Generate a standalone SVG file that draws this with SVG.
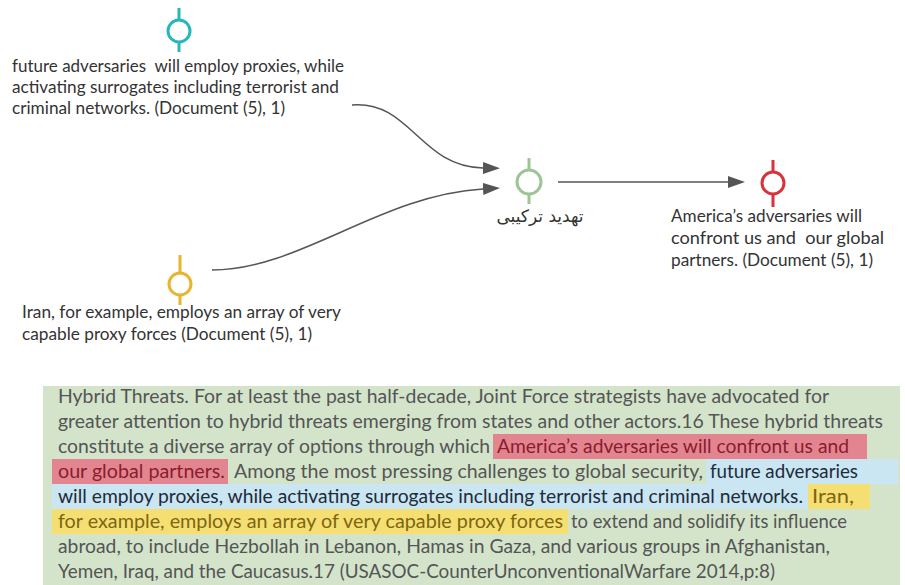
<svg xmlns="http://www.w3.org/2000/svg" width="905" height="585" viewBox="0 0 905 585">
<style>
.lbl{font-family:Lato,"Open Sans","Liberation Sans",sans-serif;font-size:17px;fill:#333}
.fa{font-family:"DejaVu Sans","Noto Sans",sans-serif;font-size:17px;fill:#333}
.body{font-family:Lato,"Open Sans","Liberation Sans",sans-serif;font-size:18.5px;fill:#555}
.rt{fill:#8b1c2c}.bt{fill:#1e2b3a}.yt{fill:#7d6612}
.stem{fill:none;stroke-width:3}
.conn{fill:none;stroke:#555;stroke-width:1.5}
</style>
<defs>
<marker id="ah" markerUnits="userSpaceOnUse" markerWidth="18" markerHeight="13" refX="0" refY="6" orient="auto">
<path d="M0,0 L17,6 L0,12 z" fill="#555"/>
</marker>
</defs>
<rect width="905" height="585" fill="#fff"/>

<g id="connectors">
<path class="conn" d="M352,105 C410,100 420,167 483,168" marker-end="url(#ah)"/>
<path class="conn" d="M212,270 C300,270 380,195 483,189" marker-end="url(#ah)"/>
<path class="conn" d="M558,182 L728,182" marker-end="url(#ah)"/>
</g>

<g id="node-future-adversaries">
<g stroke="#26b7bc" class="stem"><line x1="179" y1="8" x2="179" y2="52"/><circle cx="179" cy="31" r="11" fill="#fff"/></g>
<text class="lbl" xml:space="preserve"><tspan x="12" y="72" textLength="332" lengthAdjust="spacingAndGlyphs">future adversaries  will employ proxies, while</tspan><tspan x="12" y="93" textLength="327" lengthAdjust="spacingAndGlyphs">activating surrogates including terrorist and</tspan><tspan x="12" y="114" textLength="273" lengthAdjust="spacingAndGlyphs">criminal networks. (Document (5), 1)</tspan></text>
</g>

<g id="node-iran">
<g stroke="#e9b52f" class="stem"><line x1="180" y1="255" x2="180" y2="305"/><circle cx="180" cy="284" r="11" fill="#fff"/></g>
<text class="lbl"><tspan x="22" y="318" textLength="319" lengthAdjust="spacingAndGlyphs">Iran, for example, employs an array of very</tspan><tspan x="22" y="340" textLength="290" lengthAdjust="spacingAndGlyphs">capable proxy forces (Document (5), 1)</tspan></text>
</g>

<g id="node-hybrid-threat">
<g stroke="#9cc594" class="stem" stroke-width="2.5"><line x1="529" y1="158" x2="529" y2="204"/><circle cx="529" cy="182" r="12" fill="#fff"/></g>
<text class="fa" x="540" y="222" text-anchor="middle" direction="rtl">تهدید ترکیبی</text>
</g>

<g id="node-america-adversaries">
<g stroke="#d8333a" class="stem"><line x1="773" y1="160" x2="773" y2="207"/><circle cx="773" cy="183" r="11" fill="#fff"/></g>
<text class="lbl" xml:space="preserve"><tspan x="671" y="222" textLength="191" lengthAdjust="spacingAndGlyphs">America’s adversaries will</tspan><tspan x="671" y="244" textLength="213" lengthAdjust="spacingAndGlyphs">confront us and  our global</tspan><tspan x="671" y="266" textLength="202" lengthAdjust="spacingAndGlyphs">partners. (Document (5), 1)</tspan></text>
</g>

<g id="source-text">
<rect x="43" y="386" width="857" height="199" fill="#d3e4cb"/>
<rect x="493" y="434" width="374" height="25" fill="#e28590"/>
<rect x="52" y="459" width="176" height="25" fill="#e28590"/>
<rect x="706" y="459" width="192" height="25" fill="#c9e6f2"/>
<rect x="52" y="484" width="756" height="25" fill="#c9e6f2"/>
<rect x="808" y="484" width="62" height="25" fill="#f5df72"/>
<rect x="52" y="509" width="516" height="25" fill="#f5df72"/>
<text class="body" x="58" y="403" textLength="771" lengthAdjust="spacingAndGlyphs">Hybrid Threats. For at least the past half-decade, Joint Force strategists have advocated for</text>
<text class="body" x="58" y="428" textLength="825" lengthAdjust="spacingAndGlyphs">greater attention to hybrid threats emerging from states and other actors.16 These hybrid threats</text>
<text class="body" x="58" y="453" textLength="432" lengthAdjust="spacingAndGlyphs">constitute a diverse array of options through which</text>
<text class="body rt" x="497" y="453" textLength="352" lengthAdjust="spacingAndGlyphs">America’s adversaries will confront us and</text>
<text class="body rt" x="58" y="478" textLength="167" lengthAdjust="spacingAndGlyphs">our global partners.</text>
<text class="body" x="234" y="478" textLength="469" lengthAdjust="spacingAndGlyphs">Among the most pressing challenges to global security,</text>
<text class="body bt" x="710" y="478" textLength="148" lengthAdjust="spacingAndGlyphs">future adversaries</text>
<text class="body bt" x="58" y="503" textLength="745" lengthAdjust="spacingAndGlyphs">will employ proxies, while activating surrogates including terrorist and criminal networks.</text>
<text class="body yt" x="812" y="503" textLength="42" lengthAdjust="spacingAndGlyphs">Iran,</text>
<text class="body yt" x="58" y="528" textLength="505" lengthAdjust="spacingAndGlyphs">for example, employs an array of very capable proxy forces</text>
<text class="body" x="571" y="528" textLength="276" lengthAdjust="spacingAndGlyphs">to extend and solidify its influence</text>
<text class="body" x="58" y="553" textLength="772" lengthAdjust="spacingAndGlyphs">abroad, to include Hezbollah in Lebanon, Hamas in Gaza, and various groups in Afghanistan,</text>
<text class="body" x="58" y="578" textLength="717" lengthAdjust="spacingAndGlyphs">Yemen, Iraq, and the Caucasus.17 (USASOC-CounterUnconventionalWarfare 2014,p:8)</text>
</g>
</svg>
